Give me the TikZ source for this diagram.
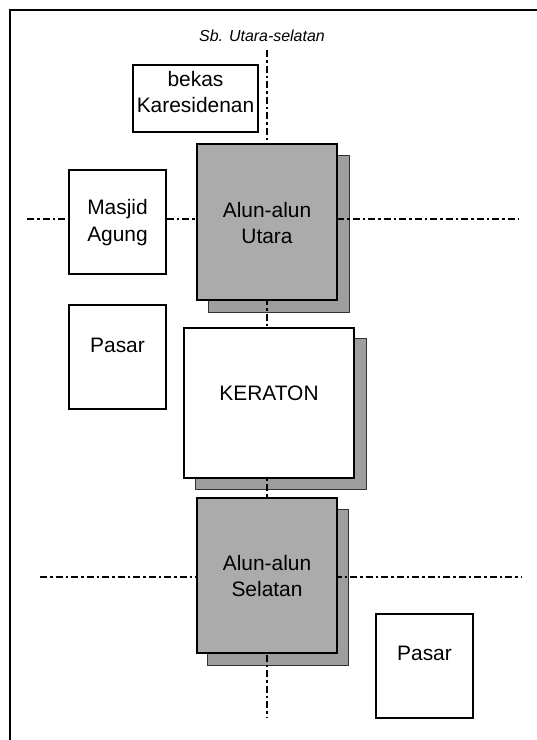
\documentclass[tikz,border=0pt]{standalone}
\usepackage{fontspec}
\setmainfont{Liberation Sans}
\pgfdeclarelayer{bg}
\pgfdeclarelayer{mid}
\pgfsetlayers{bg,mid,main}
\begin{document}
\begin{tikzpicture}[x=1bp,y=-1bp,
  box/.style={draw=black, line width=1.5bp, fill=white, rectangle, inner sep=0pt},
  alunbox/.style={box, fill=black!33, minimum width=140bp, minimum height=156bp},
  smallbox/.style={box, minimum width=97bp, minimum height=104bp},
  shade/.style={fill=black!38, draw=black!80, line width=1.2bp},
  lbl/.style={font=\fontsize{21}{27}\selectfont, align=center, inner sep=0pt},
  axis/.style={line width=2.4bp, dash pattern=on 7bp off 3bp on 2.5bp off 3bp},
  frame/.style={line width=2bp}]
\useasboundingbox (0,0) rectangle (537,740);
\begin{pgfonlayer}{bg}
  \fill[white] (0,0) rectangle (537,740);
\end{pgfonlayer}

% frame (runs off the page at right and bottom)
\coordinate (fr) at (537,10);
\coordinate (ftl) at (10,10);
\coordinate (fb) at (10,740);
\draw[frame] (fr) -- (ftl) -- (fb);

% title
\node[font=\itshape\fontsize{16}{18}\selectfont, inner sep=0pt] (title) at (262,36) {Sb. Utara-selatan};

% boxes
\node[box, minimum width=125bp, minimum height=67bp] (bekas) at (195.5,98.5) {};
\node[lbl] (bekasT) at (195.5,92) {bekas\\Karesidenan};

\node[smallbox] (masjid) at (117.5,222) {};
\node[lbl] (masjidT) at (117.5,223) {Masjid\\Agung};

\node[smallbox] (pasarA) at (117.5,357) {};
\node[lbl] (pasarAT) at (117.5,345) {Pasar};

\node[alunbox] (alunU) at (267,222) {};
\node[lbl] (alunUT) at (267,223) {Alun-alun\\Utara};

\node[box, minimum width=170bp, minimum height=150bp] (keraton) at (269,403) {};
\node[lbl] (keratonT) at (269,393) {KERATON};

\node[alunbox, minimum height=155bp] (alunS) at (267,575.5) {};
\node[lbl] (alunST) at (267,576) {Alun-alun\\Selatan};

\node[smallbox] (pasarB) at (424.5,666) {};
\node[lbl] (pasarBT) at (424.5,653) {Pasar};

% shadows
\begin{pgfonlayer}{bg}
  \draw[shade] ([shift={(12,12)}]alunU.north west) rectangle ([shift={(12,12)}]alunU.south east);
  \draw[shade] ([shift={(12,11)}]keraton.north west) rectangle ([shift={(12,11)}]keraton.south east);
  \draw[shade] ([shift={(11,12)}]alunS.north west) rectangle ([shift={(11,12)}]alunS.south east);
\end{pgfonlayer}

% axes
\coordinate (vTop) at (267,50);
\coordinate (vBot) at (267,718);
\coordinate (hUL) at (27,219);
\coordinate (hUR) at (518,219);
\coordinate (hLL) at (40,577);
\coordinate (hLR) at (521,577);
\begin{pgfonlayer}{mid}
  \draw[axis] (vTop) -- (vBot);
  \draw[axis] (hUL) -- (hUR);
  \draw[axis] (hLL) -- (hLR);
\end{pgfonlayer}
\end{tikzpicture}
\end{document}
